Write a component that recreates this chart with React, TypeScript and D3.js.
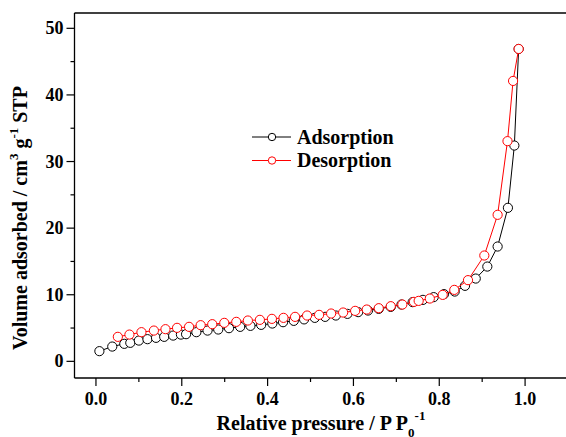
import React from "react";
import {scaleLinear, line, range} from "d3";

// Isotherm data
const adsX = [0.008, 0.038, 0.066, 0.08, 0.1, 0.12, 0.14, 0.159, 0.18, 0.198, 0.21, 0.234, 0.26, 0.285, 0.31, 0.336, 0.36, 0.385, 0.411, 0.436, 0.461, 0.485, 0.51, 0.534, 0.559, 0.586, 0.611, 0.634, 0.659, 0.687, 0.712, 0.738, 0.762, 0.787, 0.811, 0.836, 0.86, 0.885, 0.912, 0.936, 0.96, 0.975, 0.985];
const adsY = [1.53, 2.22, 2.63, 2.78, 3.12, 3.33, 3.53, 3.68, 3.87, 4.02, 4.08, 4.38, 4.62, 4.78, 4.98, 5.18, 5.33, 5.48, 5.68, 5.88, 6.08, 6.3, 6.53, 6.68, 6.88, 7.13, 7.39, 7.63, 7.88, 8.18, 8.53, 8.89, 9.23, 9.64, 10.09, 10.48, 11.34, 12.43, 14.23, 17.24, 23.05, 32.4, 46.9];
const desX = [0.051, 0.078, 0.106, 0.135, 0.162, 0.189, 0.217, 0.244, 0.271, 0.299, 0.327, 0.354, 0.382, 0.41, 0.437, 0.464, 0.492, 0.52, 0.548, 0.576, 0.604, 0.631, 0.659, 0.687, 0.714, 0.741, 0.752, 0.778, 0.808, 0.835, 0.867, 0.905, 0.936, 0.959, 0.972, 0.985];
const desY = [3.68, 4.02, 4.38, 4.62, 4.83, 5.03, 5.18, 5.43, 5.58, 5.78, 5.93, 6.13, 6.23, 6.38, 6.53, 6.68, 6.88, 6.98, 7.18, 7.33, 7.58, 7.78, 7.98, 8.28, 8.53, 8.93, 9.08, 9.43, 9.98, 10.73, 12.19, 15.89, 22.0, 33.06, 42.1, 46.9];

const xTicks = [0.0, 0.2, 0.4, 0.6, 0.8, 1.0];
const yTicks = [0, 10, 20, 30, 40, 50];

export default function App() {
    const width = 566, height = 437;
    const left = 74.5, right = 568, top = 13, bottom = 378;

    const x = scaleLinear().domain([-0.05, 1.1]).range([left, right]);
    const y = scaleLinear().domain([-2.5, 52.3]).range([bottom, top]);

    const font = '"Liberation Serif", "Times New Roman", serif';

    const series = [
        {name: "Adsorption", xs: adsX, ys: adsY, color: "#000"},
        {name: "Desorption", xs: desX, ys: desY, color: "#ff0000"},
    ];

    const path = line<[number, number]>().x(d => x(d[0])).y(d => y(d[1]));

    const xMinor = range(0, 11).map(i => i / 10).filter(v => !xTicks.some(t => Math.abs(t - v) < 1e-6));
    const yMinor = range(5, 50, 10);

    return (
        <svg width={width} height={height} style={{position: "absolute", left: 0, top: 0, fontFamily: font, fontWeight: "bold"}}>
            <rect width={width} height={height} fill="#fff"/>
            {/* frame */}
            <line x1={left} x2={right} y1={top} y2={top} stroke="#000" strokeWidth={1.3}/>
            <line x1={left} x2={left} y1={top} y2={bottom} stroke="#000" strokeWidth={1.3}/>
            <line x1={left} x2={right} y1={bottom} y2={bottom} stroke="#000" strokeWidth={1.3}/>

            {/* x axis */}
            {xTicks.map(t => (
                <g key={"xt" + t}>
                    <line x1={x(t)} x2={x(t)} y1={bottom} y2={bottom + 8} stroke="#000" strokeWidth={1.2}/>
                    <text x={x(t)} y={bottom + 27} fontSize={18} textAnchor="middle">{t.toFixed(1)}</text>
                </g>
            ))}
            {xMinor.map(t => (
                <line key={"xm" + t} x1={x(t)} x2={x(t)} y1={bottom} y2={bottom + 4} stroke="#000" strokeWidth={1.2}/>
            ))}

            {/* y axis */}
            {yTicks.map(t => (
                <g key={"yt" + t}>
                    <line x1={left} x2={left - 8} y1={y(t)} y2={y(t)} stroke="#000" strokeWidth={1.2}/>
                    <text x={left - 11} y={y(t) + 6} fontSize={18} textAnchor="end">{t}</text>
                </g>
            ))}
            {yMinor.map(t => (
                <line key={"ym" + t} x1={left} x2={left - 4} y1={y(t)} y2={y(t)} stroke="#000" strokeWidth={1.2}/>
            ))}

            {/* axis titles */}
            <text x={321} y={430} fontSize={20} textAnchor="middle">
                Relative pressure / P P<tspan dy={7} fontSize={13}>0</tspan><tspan dy={-17} fontSize={13}>-1</tspan>
            </text>
            <text transform="translate(27,218) rotate(-90)" fontSize={20} textAnchor="middle">
                Volume adsorbed / cm<tspan dy={-9} fontSize={13}>3</tspan><tspan dy={9}> g</tspan><tspan dy={-9} fontSize={13}>-1</tspan><tspan dy={9}> STP</tspan>
            </text>

            {/* series */}
            {series.map(s => {
                const pts = s.xs.map((v, i) => [v, s.ys[i]] as [number, number]);
                return (
                    <g key={s.name}>
                        <path d={path(pts) || ""} fill="none" stroke={s.color} strokeWidth={1}/>
                        {pts.map((p, i) => (
                            <circle key={i} cx={x(p[0])} cy={y(p[1])} r={4.6} fill="#fff" stroke={s.color} strokeWidth={1}/>
                        ))}
                    </g>
                );
            })}

            {/* legend */}
            {series.map((s, i) => {
                const ly = 137 + i * 23.5;
                return (
                    <g key={"lg" + s.name}>
                        <line x1={252} x2={291} y1={ly} y2={ly} stroke={s.color} strokeWidth={1}/>
                        <circle cx={272} cy={ly} r={3.7} fill="#fff" stroke={s.color} strokeWidth={1}/>
                        <text x={297} y={ly + 6.5} fontSize={20}>{s.name}</text>
                    </g>
                );
            })}
        </svg>
    );
}
